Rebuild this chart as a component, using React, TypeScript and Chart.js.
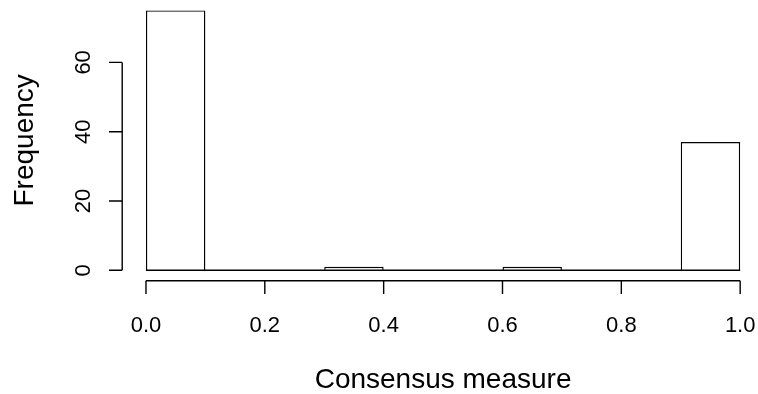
import React, { useEffect, useRef } from "react";
import { Chart, registerables } from "chart.js";

Chart.register(...registerables);

// Histogram data
const binEdges = [0, 0.1, 0.2, 0.3, 0.4, 0.5, 0.6, 0.7, 0.8, 0.9, 1.0];
const counts = [75, 0, 0, 1, 0, 0, 1, 0, 0, 37];
const xTicks = [0, 0.2, 0.4, 0.6, 0.8, 1.0];
const xTickLabels = ["0.0", "0.2", "0.4", "0.6", "0.8", "1.0"];
const yTicks = [0, 20, 40, 60];
const yTickLabels = ["0", "20", "40", "60"];
const xTitle = "Consensus measure";
const yTitle = "Frequency";

const FAMILY = '"Liberation Sans", Arial, Helvetica, sans-serif';
const TICK_FONT = "22px " + FAMILY;
const TITLE_FONT = "28px " + FAMILY;
const LW = 1.4;
const TICK = 13.2;

const rAxesPlugin = {
  id: "rAxes",
  afterDatasetsDraw(chart: any) {
    const ctx = chart.ctx;
    const xs = chart.scales.x;
    const ys = chart.scales.y;
    ctx.save();
    ctx.strokeStyle = "#000";
    ctx.fillStyle = "#000";
    ctx.lineWidth = LW;

    // baseline of histogram (bottom edges of all bins)
    const y0 = ys.getPixelForValue(0);
    ctx.beginPath();
    ctx.moveTo(xs.getPixelForValue(binEdges[0]), y0);
    ctx.lineTo(xs.getPixelForValue(binEdges[binEdges.length - 1]), y0);
    ctx.stroke();

    // x axis
    const ax = ys.bottom;
    ctx.beginPath();
    ctx.moveTo(xs.getPixelForValue(xTicks[0]), ax);
    ctx.lineTo(xs.getPixelForValue(xTicks[xTicks.length - 1]), ax);
    xTicks.forEach((v) => {
      const p = xs.getPixelForValue(v);
      ctx.moveTo(p, ax);
      ctx.lineTo(p, ax + TICK);
    });
    ctx.stroke();
    ctx.textAlign = "center";
    ctx.textBaseline = "alphabetic";
    ctx.font = TICK_FONT;
    xTicks.forEach((v, i) => {
      ctx.fillText(xTickLabels[i], xs.getPixelForValue(v), ax + 51.5);
    });
    ctx.font = TITLE_FONT;
    ctx.fillText(xTitle, xs.getPixelForValue(0.5), ax + 107.5);

    // y axis
    const ay = xs.left;
    ctx.beginPath();
    ctx.moveTo(ay, ys.getPixelForValue(yTicks[0]));
    ctx.lineTo(ay, ys.getPixelForValue(yTicks[yTicks.length - 1]));
    yTicks.forEach((v) => {
      const p = ys.getPixelForValue(v);
      ctx.moveTo(ay, p);
      ctx.lineTo(ay - TICK, p);
    });
    ctx.stroke();
    ctx.font = TICK_FONT;
    yTicks.forEach((v, i) => {
      ctx.save();
      ctx.translate(ay - 32.7, ys.getPixelForValue(v));
      ctx.rotate(-Math.PI / 2);
      ctx.fillText(yTickLabels[i], 0, 0);
      ctx.restore();
    });
    ctx.font = TITLE_FONT;
    ctx.save();
    ctx.translate(ay - 89.2, (ys.top + ys.bottom) / 2);
    ctx.rotate(-Math.PI / 2);
    ctx.fillText(yTitle, 0, 0);
    ctx.restore();

    ctx.restore();
  },
};

export default function App() {
  const ref = useRef<HTMLCanvasElement | null>(null);
  useEffect(() => {
    document.body.style.margin = "0";
    const canvas = ref.current;
    if (!canvas) return;
    const mids = counts.map((_, i) => (binEdges[i] + binEdges[i + 1]) / 2);
    const chart = new Chart(canvas, {
      type: "bar",
      data: {
        datasets: [
          {
            data: mids.map((m, i) => ({ x: m, y: counts[i] })),
            backgroundColor: "#ffffff",
            borderColor: "#000000",
            borderWidth: LW,
            borderSkipped: "start",
            inflateAmount: 0,
            barPercentage: 1,
            categoryPercentage: 1,
          } as any,
        ],
      },
      options: {
        responsive: false,
        animation: false,
        devicePixelRatio: 1,
        layout: { padding: { left: 122.2, top: 0, right: 0, bottom: 113.3 } },
        plugins: { legend: { display: false }, tooltip: { enabled: false } },
        scales: {
          x: {
            type: "linear",
            min: -0.04,
            max: 1.03,
            display: false,
            offset: false,
            afterBuildTicks: (s: any) => {
              s.ticks = xTicks.map((v) => ({ value: v }));
            },
          },
          y: {
            type: "linear",
            min: -3,
            max: 78,
            display: false,
            afterBuildTicks: (s: any) => {
              s.ticks = yTicks.map((v) => ({ value: v }));
            },
          },
        },
      } as any,
      plugins: [rAxesPlugin],
    });
    return () => chart.destroy();
  }, []);
  return (
    <canvas
      ref={ref}
      width={758}
      height={394}
      style={{ display: "block", width: 758, height: 394, background: "#fff" }}
    />
  );
}
